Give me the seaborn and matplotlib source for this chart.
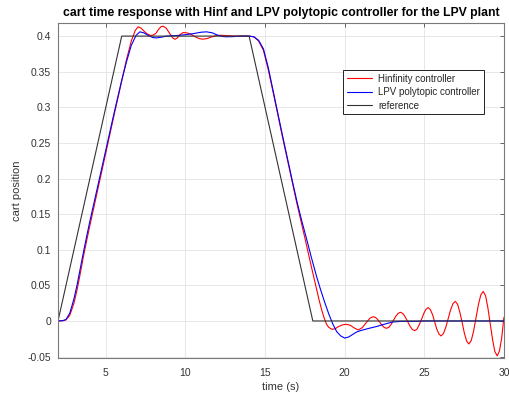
import numpy as np
import pandas as pd
import seaborn as sns
import matplotlib
matplotlib.use("Agg")
import matplotlib.pyplot as plt

# ---------------- data ----------------
t_ref = [2.0, 6.0, 14.0, 18.0, 30.0]
y_ref = [0.0, 0.4, 0.4, 0.0, 0.0]

t_hinf = [2.0, 2.3, 2.5, 2.74, 3.0, 3.2, 3.4, 3.6, 3.8, 4.0, 4.5, 5.0, 5.5, 6.0, 6.3, 6.6, 6.85,
          7.03, 7.2, 7.4, 7.6, 7.8, 7.97, 8.15, 8.3, 8.45, 8.6, 8.8, 9.0, 9.2, 9.34, 9.5, 9.65,
          9.86, 10.1, 10.3, 10.5, 10.7, 10.9, 11.1, 11.35, 11.6, 11.9, 12.16, 12.7, 13.2, 14.0,
          14.3, 14.6, 14.9, 15.2, 15.5, 15.8, 16.1, 16.4, 16.7, 17.0, 17.3, 17.6, 17.9, 18.2,
          18.4, 18.55, 18.7, 18.85, 19.0, 19.2, 19.4, 19.6, 19.85, 20.1, 20.35, 20.6, 20.85,
          21.1, 21.35, 21.6, 21.80, 21.94, 22.08, 22.22, 22.35, 22.49, 22.63, 22.78, 22.92,
          23.07, 23.21, 23.36, 23.50, 23.65, 23.80, 23.95, 24.10, 24.25, 24.40, 24.54, 24.68,
          24.83, 24.97, 25.11, 25.25, 25.38, 25.52, 25.65, 25.78, 25.92, 26.05, 26.20, 26.35,
          26.50, 26.65, 26.80, 26.95, 27.09, 27.23, 27.38, 27.52, 27.66, 27.80, 27.95, 28.10,
          28.25, 28.40, 28.55, 28.70, 28.85, 28.99, 29.14, 29.29, 29.43, 29.58, 29.72, 29.86,
          30.0]
y_hinf = [0.0, 0.0003, 0.0015, 0.008, 0.025, 0.044, 0.067, 0.091, 0.113, 0.134, 0.185, 0.236,
          0.287, 0.337, 0.367, 0.393, 0.408, 0.413, 0.4115, 0.407, 0.403, 0.401, 0.4014, 0.404,
          0.409, 0.413, 0.414, 0.411, 0.404, 0.3975, 0.3955, 0.3975, 0.402, 0.405, 0.4045, 0.403,
          0.4005, 0.398, 0.3963, 0.3957, 0.3965, 0.3985, 0.4005, 0.4012, 0.4005, 0.4, 0.4,
          0.399, 0.393, 0.38, 0.353, 0.322, 0.29, 0.258, 0.227, 0.196, 0.165, 0.136, 0.107,
          0.077, 0.048, 0.029, 0.016, 0.005, -0.004, -0.009, -0.0117, -0.011, -0.008, -0.0055,
          -0.0047, -0.006, -0.0098, -0.0126, -0.0095, -0.0025, 0.0042, 0.0060, 0.0049, 0.0019,
          -0.0022, -0.0062, -0.0092, -0.0103, -0.0088, -0.0047, 0.0010, 0.0066, 0.0107, 0.0122,
          0.0105, 0.0058, -0.0007, -0.0072, -0.0119, -0.0136, -0.0114, -0.0055, 0.0026, 0.0106,
          0.0165, 0.0187, 0.0160, 0.0088, -0.0012, -0.0111, -0.0183, -0.0210, -0.0178, -0.0089,
          0.0033, 0.0154, 0.0243, 0.0275, 0.0235, 0.0126, -0.0024, -0.0174, -0.0283, -0.0323,
          -0.0274, -0.0139, 0.0046, 0.0231, 0.0366, 0.0415, 0.0354, 0.0189, -0.0038, -0.0264,
          -0.0429, -0.0490, -0.0420, -0.0240, 0.0050]

t_lpv = [2.0, 2.3, 2.5, 2.74, 3.0, 3.2, 3.4, 3.6, 3.8, 4.0, 4.5, 5.0, 5.5, 6.0, 6.3, 6.6, 6.9,
         7.14, 7.4, 7.7, 7.95, 8.19, 8.5, 8.8, 9.2, 9.6, 10.0, 10.5, 11.0, 11.33, 11.7, 12.0,
         12.3, 12.58, 13.0, 13.5, 14.0, 14.3, 14.6, 14.9, 15.2, 15.5, 15.8, 16.1, 16.4, 16.7,
         17.0, 17.3, 17.6, 17.9, 18.23, 18.5, 18.75, 19.0, 19.25, 19.5, 19.75, 20.0, 20.25,
         20.5, 20.75, 21.0, 21.5, 22.0, 22.5, 23.0, 23.5, 24.5, 25.0, 30.0]
y_lpv = [0.0, 0.0005, 0.002, 0.011, 0.031, 0.051, 0.074, 0.097, 0.119, 0.14, 0.19, 0.24, 0.29,
         0.338, 0.364, 0.387, 0.401, 0.406, 0.4045, 0.4005, 0.398, 0.3975, 0.3985, 0.4, 0.4005,
         0.401, 0.402, 0.4035, 0.4055, 0.406, 0.4045, 0.4015, 0.3995, 0.399, 0.3993, 0.4, 0.4,
         0.399, 0.394, 0.382, 0.356, 0.324, 0.292, 0.26, 0.229, 0.198, 0.168, 0.141, 0.116,
         0.09, 0.063, 0.043, 0.026, 0.01, -0.004, -0.015, -0.021, -0.024, -0.0225, -0.019,
         -0.0155, -0.0135, -0.0105, -0.0078, -0.0045, -0.0015, -0.0006, -0.0005, 0.0, 0.0]

series_names = ["Hinfinity controller", "LPV polytopic controller", "reference"]
x_ticks = [5, 10, 15, 20, 25, 30]
y_ticks = [-0.05, 0, 0.05, 0.1, 0.15, 0.2, 0.25, 0.3, 0.35, 0.4]
y_tick_labels = ["-0.05", "0", "0.05", "0.1", "0.15", "0.2", "0.25", "0.3", "0.35", "0.4"]

df = pd.concat([
    pd.DataFrame({"t": t_hinf, "y": y_hinf, "series": series_names[0]}),
    pd.DataFrame({"t": t_lpv, "y": y_lpv, "series": series_names[1]}),
    pd.DataFrame({"t": t_ref, "y": y_ref, "series": series_names[2]}),
], ignore_index=True)

# ---------------- style ----------------
sns.set_theme(style="whitegrid")
plt.rcParams["font.family"] = ["Liberation Sans", "DejaVu Sans"]

fig = plt.figure(figsize=(5.09, 3.98), dpi=100)
ax = fig.add_axes([0.114, 0.1005, 0.876, 0.841])

palette = {series_names[0]: "#ff0000", series_names[1]: "#0000ff", series_names[2]: "#333333"}
sns.lineplot(data=df, x="t", y="y", hue="series", hue_order=series_names, palette=palette,
             estimator=None, sort=False, linewidth=0.8, ax=ax)

ax.set_xlim(2, 30)
ax.set_ylim(-0.052, 0.418)
ax.set_xticks(x_ticks)
ax.set_yticks(y_ticks)
ax.set_yticklabels(y_tick_labels)

tick_col = "#4d4d4d"
ax.tick_params(axis="both", which="both", direction="in", length=3, width=0.6,
               labelsize=7.5, colors=tick_col, top=True, right=True,
               labelcolor="#333333")
ax.tick_params(axis="x", pad=7)
ax.tick_params(axis="y", pad=5)
ax.grid(True, color="#e3e3e3", linewidth=0.6)
for s in ax.spines.values():
    s.set_visible(True)
    s.set_color("#7a7a7a")
    s.set_linewidth(0.8)
ax.set_facecolor("white")

ax.set_xlabel("time (s)", fontsize=8, color="#333333", labelpad=3)
ax.set_ylabel("cart position", fontsize=8, color="#333333", labelpad=4)
ax.set_title("cart time response with Hinf and LPV polytopic controller for the LPV plant",
             fontsize=8.8, fontweight="bold", color="black", pad=5)

handles, labels = ax.get_legend_handles_labels()
leg = ax.legend(handles, labels, loc="upper left", bbox_to_anchor=(0.639, 0.861),
                fontsize=7, frameon=True, fancybox=False, borderpad=0.4,
                handlelength=2.6, handletextpad=0.6, labelspacing=0.35, borderaxespad=0)
leg.get_frame().set_edgecolor("#222222")
leg.get_frame().set_linewidth(0.7)
leg.get_frame().set_alpha(1)

fig.savefig("out.png", dpi=100)
